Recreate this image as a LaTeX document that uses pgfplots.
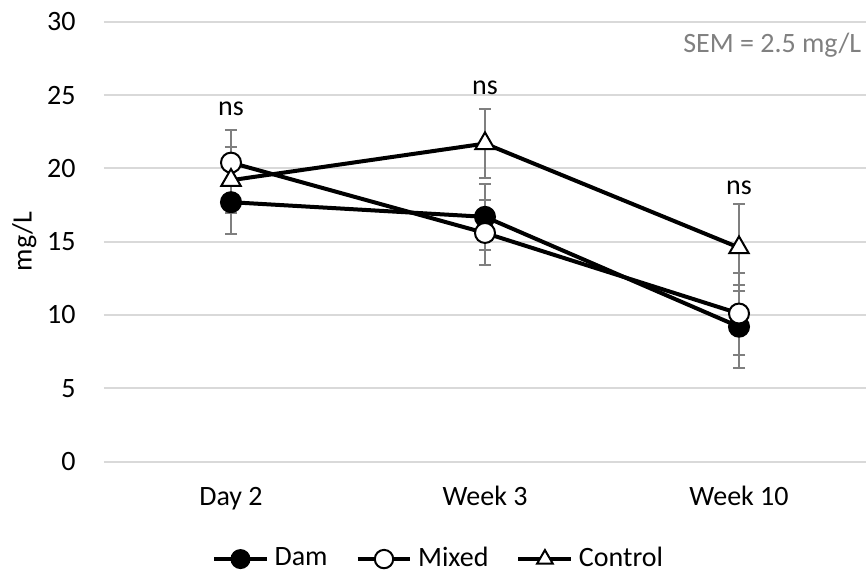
\documentclass[border=0pt]{standalone}
\usepackage{fontspec}
\setmainfont{Carlito}
\usepackage{pgfplots}
\usepackage{pgfplotstable}
\pgfplotsset{compat=1.18}
\definecolor{gridgray}{HTML}{D9D9D9}
\definecolor{errgray}{HTML}{7F7F7F}
\definecolor{semgray}{HTML}{808080}

\pgfplotstableread{
x dam damerr mixed mixederr control controlerr
0 17.7 2.2 20.4 2.2 19.2 2.25
1 16.7 2.25 15.6 2.22 21.7 2.33
2 9.2 2.85 10.1 2.8 14.6 2.95
}\data

\pgfplotsset{myerr/.style={
  error bars/y dir=both, error bars/y explicit,
  error bars/error bar style={color=errgray, line width=1pt, solid},
  error bars/error mark options={rotate=90, mark size=3pt, color=errgray, line width=1pt}}}

\begin{document}
\fontsize{14pt}{17pt}\selectfont
\begin{tikzpicture}
\path[use as bounding box] (0,0) rectangle (433.5pt,286.5pt);
\begin{axis}[
  at={(52pt,55.75pt)}, anchor=south west,
  scale only axis, width=381pt, height=219.75pt,
  xmin=-0.5, xmax=2.5, ymin=0, ymax=30,
  xtick={0,1,2}, xticklabels={Day 2, Week 3, Week 10},
  ytick={0,5,...,30},
  ymajorgrids, grid style={gridgray, line width=1pt},
  axis line style={draw=none}, major tick length=0pt,
  /pgf/number format/assume math mode=true,
  tick label style={font=\fontsize{14pt}{17pt}\selectfont},
  yticklabel style={anchor=east, inner sep=0pt, xshift=-14pt},
  xticklabel style={anchor=base, inner sep=0pt, yshift=-22pt},
  ylabel={mg/L},
  ylabel style={at={(axis description cs:-0.095,0.5)}, anchor=base, inner sep=0pt, font=\fontsize{14pt}{17pt}\selectfont},
  clip=false,
  legend columns=3,
  legend style={draw=none, fill=none, at={(0.4377,-0.222)}, anchor=center,
    font=\fontsize{14pt}{17pt}\selectfont, inner sep=0pt,
    nodes={inner sep=0pt},
    /tikz/every odd column/.append style={column sep=2.8pt},
    /tikz/every even column/.append style={column sep=14pt}},
  legend image code/.code={\draw[mark repeat=2,mark phase=2,#1] plot coordinates {(0cm,0cm) (0.465cm,0cm) (0.93cm,0cm)};},
]
\addplot[black, line width=2pt, mark=*, mark size=5pt, mark options={fill=black, draw=black, line width=1pt}, myerr,
  legend image post style={mark size=4.5pt}]
  table[x=x, y=dam, y error=damerr] {\data};
\addlegendentry{Dam}
\addplot[black, line width=2pt, mark=*, mark size=5pt, mark options={fill=white, draw=black, line width=1pt}, myerr,
  legend image post style={mark size=4.6pt}]
  table[x=x, y=mixed, y error=mixederr] {\data};
\addlegendentry{Mixed}
\addplot[black, line width=2pt, mark=triangle*, mark size=5.6pt, mark options={fill=white, draw=black, line width=1pt}, myerr,
  legend image post style={mark size=4.5pt}]
  table[x=x, y=control, y error=controlerr] {\data};
\addlegendentry{Control}
\node[anchor=base, inner sep=0pt] at (axis cs:0,23.6) {ns};
\node[anchor=base, inner sep=0pt] at (axis cs:1,25.07) {ns};
\node[anchor=base, inner sep=0pt] at (axis cs:2,18.24) {ns};
\node[anchor=base east, inner sep=0pt, text=semgray] at (axis cs:2.483,27.9) {SEM = 2.5 mg/L};
\end{axis}
\end{tikzpicture}
\end{document}
